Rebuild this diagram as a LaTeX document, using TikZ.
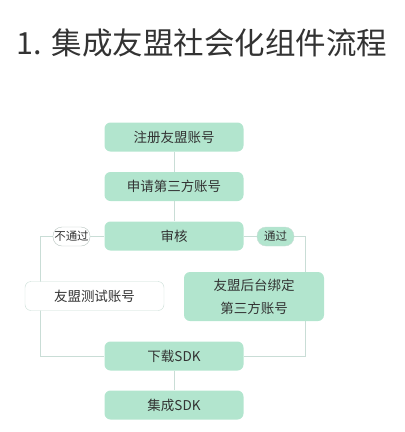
\documentclass[tikz,border=0pt]{standalone}
\usepackage{fontspec}
\setmainfont{Noto Sans CJK SC}
\usepackage{xcolor}
\definecolor{boxgreen}{HTML}{B2E5CE}
\definecolor{linegray}{HTML}{C9DDD6}
\definecolor{tagline}{HTML}{B8C4C0}
\definecolor{txtgray}{HTML}{333333}
\tikzset{
  flowbox/.style={rounded corners=6pt, fill=boxgreen, text=txtgray,
    minimum width=139pt, minimum height=29pt, inner sep=0pt, font=\fontsize{13.5}{16}\selectfont},
  whitebox/.style={flowbox, fill=white, draw=linegray},
  tagbox/.style={rounded corners=9pt, text=txtgray, minimum width=37pt,
    minimum height=19pt, inner sep=0pt, font=\fontsize{11.5}{13}\selectfont},
  link/.style={draw=linegray, line width=0.8pt}
}
\begin{document}
\begin{tikzpicture}[x=1pt,y=-1pt]
  \useasboundingbox (0,0) rectangle (405,432);
  \node[anchor=west, inner sep=0pt, text=txtgray, font=\fontsize{30.5}{34}\selectfont] (title) at (16,43) {1.\hspace{10pt}集成友盟社会化组件流程};
  % main column
  \node[flowbox] (reg) at (174,137) {注册友盟账号};
  \node[flowbox] (apply) at (174,186.5) {申请第三方账号};
  \node[flowbox] (check) at (174,236) {审核};
  \node[flowbox] (down) at (174,356) {下载SDK};
  \node[flowbox] (integ) at (174,405) {集成SDK};
  % branches
  \coordinate (lt) at (40,236);
  \coordinate (lb) at (40,356);
  \coordinate (rt) at (305,236);
  \coordinate (rb) at (305,356);
  \draw[link] (reg) -- (apply);
  \draw[link] (apply) -- (check);
  \draw[link] (down) -- (integ);
  \draw[link] (check.west) -- (lt) -- (lb) -- (down.west);
  \draw[link] (check.east) -- (rt) -- (rb) -- (down.east);
  \node[tagbox, fill=white, draw=tagline] (fail) at (71.5,236.5) {不通过};
  \node[tagbox, fill=boxgreen, draw=linegray] (pass) at (275.5,236.5) {通过};
  \node[whitebox] (test) at (94.5,296) {友盟测试账号};
  \node[flowbox, minimum width=140pt, minimum height=49pt, align=center,
    font=\fontsize{13.5}{23}\selectfont] (bind) at (254,296.5) {友盟后台绑定\\第三方账号};
\end{tikzpicture}
\end{document}
